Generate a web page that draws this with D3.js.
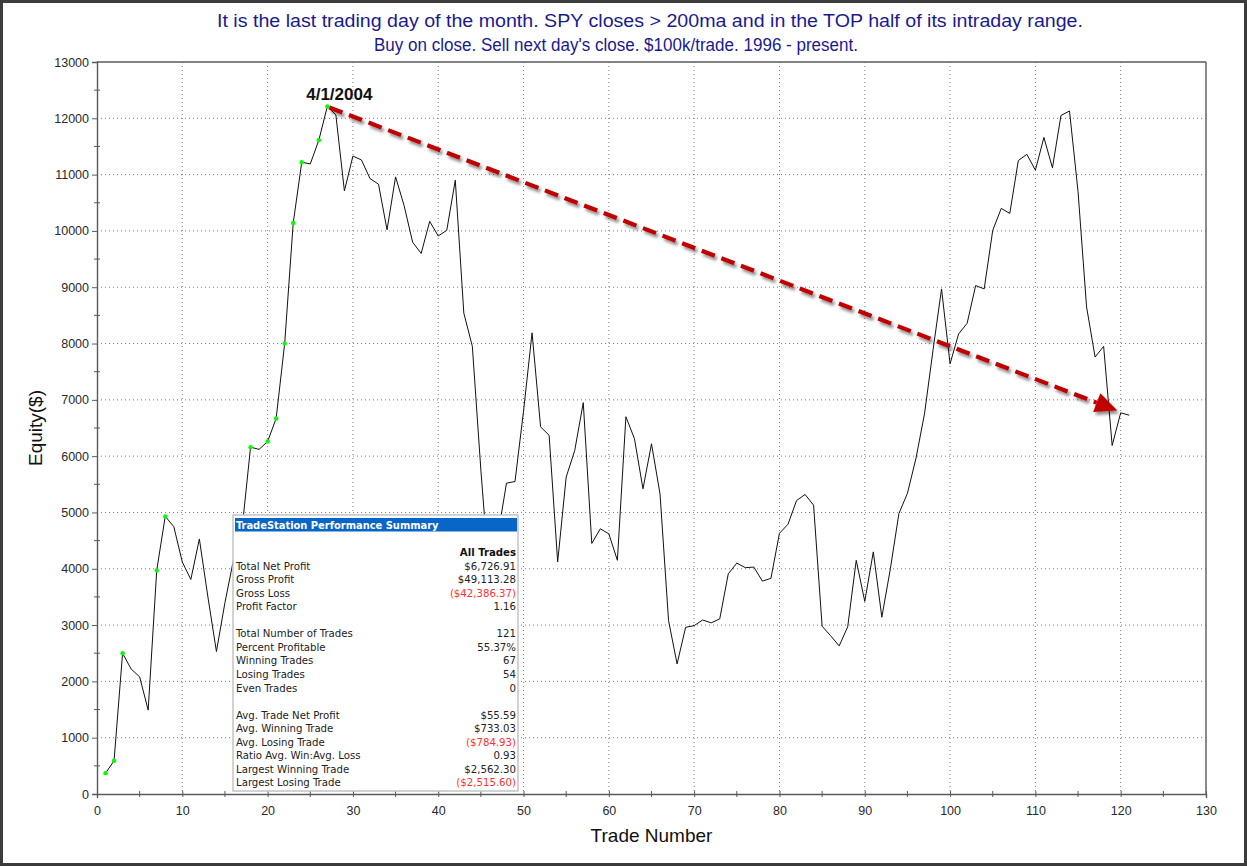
<!DOCTYPE html>
<html><head><meta charset="utf-8">
<script src="https://cdn.jsdelivr.net/npm/d3@7"></script>
<style>body{margin:0;background:#fff}svg{display:block}</style>
</head><body><svg id="c" width="1247" height="867"></svg>
<script>
// ---------- DATA ----------
const titleLines = [
  "It is the last trading day of the month. SPY closes > 200ma and in the TOP half of its intraday range.",
  "Buy on close. Sell next day's close. $100k/trade. 1996 - present."
];
const xLabel = "Trade Number";
const yLabel = "Equity($)";
const xTickValues = [0,10,20,30,40,50,60,70,80,90,100,110,120,130];
const yTickValues = [0,1000,2000,3000,4000,5000,6000,7000,8000,9000,10000,11000,12000,13000];
// cumulative equity after each trade (trade number = position + 1)
const equity = [
  370, 590, 2500, 2220, 2080, 1490, 3970, 4930, 4750, 4120,
  3810, 4530, 3500, 2530, 3400, 4160, 4700, 6160, 6120, 6260,
  6670, 8000, 10140, 11220, 11190, 11610, 12210, 12060, 10710, 11330,
  11260, 10930, 10830, 10020, 10960, 10450, 9800, 9600, 10170, 9910,
  10010, 10900, 8540, 7950, 5750, 3800, 4600, 5520, 5550, 6800,
  8190, 6520, 6370, 4120, 5630, 6100, 6950, 4450, 4710, 4620,
  4150, 6700, 6310, 5420, 6220, 5330, 3080, 2310, 2960, 2990,
  3090, 3040, 3110, 3910, 4100, 4020, 4030, 3780, 3830, 4630,
  4790, 5210, 5320, 5130, 2980, 2810, 2630, 2970, 4150, 3420,
  4300, 3140, 4000, 4980, 5340, 5960, 6750, 7880, 8970, 7640,
  8170, 8360, 9030, 8970, 10010, 10400, 10310, 11250, 11360, 11080,
  11660, 11120, 12050, 12130, 10700, 8650, 7760, 7950, 6190, 6770,
  6727
];
const peakLabel = "4/1/2004";
const arrowEnd = [119.6, 6810];   // trade, equity of the arrow tip
const summaryTitle = "TradeStation Performance Summary";
const summaryHeader = "All Trades";
const summaryLabels = [
  "Total Net Profit","Gross Profit","Gross Loss","Profit Factor","",
  "Total Number of Trades","Percent Profitable","Winning Trades","Losing Trades","Even Trades","",
  "Avg. Trade Net Profit","Avg. Winning Trade","Avg. Losing Trade","Ratio Avg. Win:Avg. Loss",
  "Largest Winning Trade","Largest Losing Trade"
];
const summaryValues = [
  "$6,726.91","$49,113.28","($42,386.37)","1.16","",
  "121","55.37%","67","54","0","",
  "$55.59","$733.03","($784.93)","0.93","$2,562.30","($2,515.60)"
];

// ---------- CHART ----------
const svg = d3.select("#c");
const W = 1247, H = 867;
const L = 97, R = 1206, T = 62, B = 794;
const x = d3.scaleLinear().domain([0,130]).range([L,R]);
const y = d3.scaleLinear().domain([0,13000]).range([B,T]);
const axisColor = "#5a5a5a";
const font = "'Liberation Sans', Arial, sans-serif";

svg.append("rect").attr("width",W).attr("height",H).attr("fill","#fff");

const defs = svg.append("defs");
const f = defs.append("filter").attr("id","shadow").attr("x","-20%").attr("y","-20%").attr("width","140%").attr("height","140%");
f.append("feDropShadow").attr("dx",2).attr("dy",3).attr("stdDeviation",1.6)
  .attr("flood-color","#000").attr("flood-opacity",0.45);

// title
svg.selectAll("text.title").data(titleLines).join("text")
  .attr("class","title")
  .attr("x",(d,i)=> i===0 ? 217 : 374)
  .attr("y",(d,i)=> i===0 ? 27 : 51)
  .attr("textLength",(d,i)=> i===0 ? 866 : 484)
  .attr("lengthAdjust","spacingAndGlyphs")
  .attr("font-family",font).attr("font-size",17.5)
  .attr("fill","#1a1a8e")
  .text(d=>d);

// grid
const g = svg.append("g");
g.selectAll("line.vg").data(xTickValues.filter(v=>v>0 && v<130)).join("line")
  .attr("x1",d=>x(d)).attr("x2",d=>x(d)).attr("y1",T).attr("y2",B)
  .attr("stroke","#7a7a7a").attr("stroke-width",1).attr("stroke-dasharray","1,3");
g.selectAll("line.hg").data(yTickValues.filter(v=>v>0 && v<13000)).join("line")
  .attr("x1",L).attr("x2",R).attr("y1",d=>y(d)).attr("y2",d=>y(d))
  .attr("stroke","#7a7a7a").attr("stroke-width",1).attr("stroke-dasharray","1,3");

// axes
const xAxis = d3.axisBottom(x).tickValues(xTickValues).tickSize(4).tickPadding(8).tickFormat(d3.format("d"));
const yAxis = d3.axisLeft(y).tickValues(yTickValues).tickSize(5).tickPadding(3).tickFormat(d3.format("d"));
const gx = svg.append("g").attr("transform",`translate(0,${B})`).call(xAxis);
const gy = svg.append("g").attr("transform",`translate(${L},0)`).call(yAxis);
[gx,gy].forEach(a=>{
  a.select(".domain").attr("stroke",axisColor).attr("stroke-width",1.4);
  a.selectAll(".tick line").attr("stroke",axisColor);
  a.selectAll(".tick text").attr("font-family",font).attr("font-size",12.5).attr("fill","#2a2a2a");
});
gx.selectAll(".tick line").attr("y1",-3).attr("y2",3);
// minor ticks
const xMinor = xTickValues.slice(0,-1).map(v=>v+5);
const yMinor = yTickValues.slice(0,-1).map(v=>v+500);
svg.append("g").selectAll("line").data(xMinor).join("line")
  .attr("x1",d=>x(d)).attr("x2",d=>x(d)).attr("y1",B-3).attr("y2",B+3).attr("stroke",axisColor);
svg.append("g").selectAll("line").data(yMinor).join("line")
  .attr("x1",L-3).attr("x2",L+3).attr("y1",d=>y(d)).attr("y2",d=>y(d)).attr("stroke",axisColor);
// frame top/right
svg.append("line").attr("x1",L).attr("x2",R).attr("y1",T).attr("y2",T).attr("stroke",axisColor).attr("stroke-width",1.4);
svg.append("line").attr("x1",R).attr("x2",R).attr("y1",T).attr("y2",B).attr("stroke",axisColor).attr("stroke-width",1.4);

// axis titles
svg.append("text").attr("x",(L+R)/2).attr("y",842).attr("text-anchor","middle")
  .attr("font-family",font).attr("font-size",19).attr("fill","#111").text(xLabel);
svg.append("text").attr("transform",`translate(42,${(T+B)/2}) rotate(-90)`).attr("text-anchor","middle")
  .attr("font-family",font).attr("font-size",19).attr("fill","#111").text(yLabel);

// equity line
const pts = equity.map((v,i)=>({t:i+1,v}));
svg.append("path").datum(pts)
  .attr("fill","none").attr("stroke","#111").attr("stroke-width",1)
  .attr("d",d3.line().x(d=>x(d.t)).y(d=>y(d.v)));
// new-high markers
let runMax = 0;
const highs = pts.filter(p=>{ if(p.v>runMax){runMax=p.v; return true;} return false; });
svg.append("g").selectAll("circle").data(highs).join("circle")
  .attr("cx",d=>x(d.t)).attr("cy",d=>y(d.v)).attr("r",2.2).attr("fill","#00ff00");

// peak label + arrow
const peak = pts.reduce((a,b)=> b.v>a.v ? b : a);
svg.append("text").attr("x",x(peak.t)+12).attr("y",y(peak.v)-6).attr("text-anchor","middle")
  .attr("font-family",font).attr("font-weight","bold").attr("font-size",17).attr("fill","#111")
  .text(peakLabel);

const x0 = x(peak.t)+2, y0 = y(peak.v)+1, x1 = x(arrowEnd[0]), y1 = y(arrowEnd[1]);
const ang = Math.atan2(y1-y0, x1-x0);
const headLen = 22, headW = 10;
const bx = x1 - headLen*Math.cos(ang), by = y1 - headLen*Math.sin(ang);
const arrowG = svg.append("g").attr("filter","url(#shadow)");
arrowG.append("line").attr("x1",x0).attr("y1",y0).attr("x2",bx).attr("y2",by)
  .attr("stroke","#c00000").attr("stroke-width",4.2).attr("stroke-dasharray","14,7");
const px = -Math.sin(ang), py = Math.cos(ang);
arrowG.append("path")
  .attr("d",`M${x1},${y1}L${bx+px*headW},${by+py*headW}L${bx-px*headW},${by-py*headW}Z`)
  .attr("fill","#c00000");

// summary box
const bf = "'DejaVu Sans Condensed','DejaVu Sans',Tahoma,sans-serif";
const box = svg.append("g");
box.append("rect").attr("x",233).attr("y",515).attr("width",285).attr("height",276)
  .attr("fill","#fff").attr("stroke","#c4c4c4").attr("stroke-width",1.5);
box.append("rect").attr("x",235).attr("y",518).attr("width",282).attr("height",13.5).attr("fill","#0866c8");
box.append("text").attr("x",236).attr("y",529).attr("font-family",bf).attr("font-weight","bold")
  .attr("font-size",11).attr("fill","#fff").text(summaryTitle);
const rowY = k => 556 + k*13.55;
box.append("text").attr("x",516).attr("y",rowY(0)).attr("text-anchor","end")
  .attr("font-family",bf).attr("font-weight","bold").attr("font-size",11.3).attr("fill","#111").text(summaryHeader);
box.selectAll("text.lab").data(summaryLabels).join("text").attr("class","lab")
  .attr("x",236).attr("y",(d,i)=>rowY(i+1)).attr("font-family",bf).attr("font-size",11.3).attr("fill","#222").text(d=>d);
box.selectAll("text.val").data(summaryValues).join("text").attr("class","val")
  .attr("x",516).attr("y",(d,i)=>rowY(i+1)).attr("text-anchor","end")
  .attr("font-family",bf).attr("font-size",11.3)
  .attr("fill",d=> d.startsWith("(") ? "#ff3030" : "#222").text(d=>d);

// outer border
svg.append("rect").attr("x",1.5).attr("y",1.5).attr("width",W-3).attr("height",H-4)
  .attr("fill","none").attr("stroke","#3c3c3c").attr("stroke-width",3);
</script></body></html>
